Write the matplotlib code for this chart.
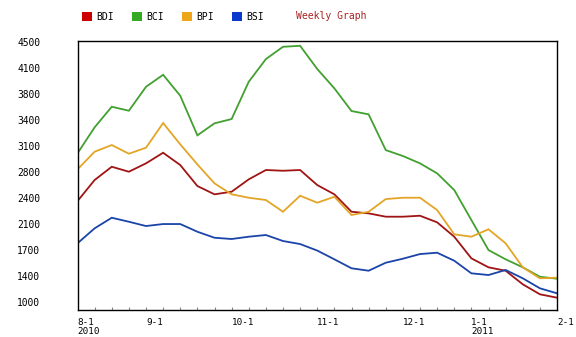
import matplotlib
matplotlib.use("Agg")
import matplotlib.pyplot as plt
import matplotlib.patches as mpatches

weeks = list(range(29))
bdi = [2358, 2642, 2821, 2754, 2867, 3010, 2844, 2561, 2449, 2484, 2651, 2777, 2767, 2777, 2574,
       2449, 2214, 2192, 2147, 2147, 2160, 2071, 1877, 1585, 1464, 1418, 1235, 1100, 1054]
bci = [3002, 3353, 3631, 3577, 3900, 4062, 3779, 3245, 3407, 3465, 3968, 4274, 4440, 4453, 4140,
       3879, 3573, 3528, 3046, 2966, 2867, 2732, 2507, 2102, 1697, 1572, 1464, 1337, 1310]
bpi = [2786, 3024, 3114, 2997, 3078, 3411, 3123, 2853, 2597, 2449, 2403, 2372, 2214, 2430, 2336,
       2416, 2170, 2214, 2385, 2403, 2403, 2237, 1909, 1877, 1977, 1788, 1464, 1316, 1324]
bsi = [1788, 1990, 2133, 2079, 2021, 2048, 2048, 1944, 1863, 1846, 1877, 1900, 1819, 1778, 1690,
       1572, 1451, 1418, 1526, 1580, 1643, 1661, 1553, 1383, 1360, 1428, 1316, 1181, 1113]

series_names = ["BDI", "BCI", "BPI", "BSI"]
line_colors = ["#a01414", "#42a030", "#e3a526", "#1a44a8"]
legend_colors = ["#cc0000", "#33aa22", "#eea519", "#0a3acc"]

ytick_vals = [1000, 1350, 1700, 2050, 2400, 2750, 3100, 3450, 3800, 4150, 4500]
ytick_labels = ["1000", "1400", "1700", "2100", "2400", "2800", "3100", "3400", "3800", "4100", "4500"]
xlabel_pos = [0, 4, 9, 14, 19, 23, 28]
xlabel_text = ["8-1\n2010", "9-1", "10-1", "11-1", "12-1", "1-1\n2011", "2-1"]

W, H = 576, 337
fig = plt.figure(figsize=(W / 100, H / 100), dpi=100)
fig.patch.set_facecolor("white")

left, right, top, bottom = 77.5, 557.0, 40.7, 310.0
ax = fig.add_axes([left / W, (H - bottom) / H, (right - left) / W, (bottom - top) / H])

for vals, c in zip([bdi, bci, bpi, bsi], line_colors):
    ax.plot(weeks, vals, color=c, lw=1.3, solid_joinstyle="miter")

ax.set_xlim(0, 28)
ax.set_ylim(888, 4522)

mono = "DejaVu Sans Mono"
ax.set_yticks(ytick_vals)
ax.set_yticklabels(ytick_labels, fontsize=6.9, family=mono)
ax.tick_params(axis="y", length=0, pad=27)
for lab in ax.get_yticklabels():
    lab.set_horizontalalignment("right")

ax.set_xticks(weeks[1:-1])
ax.set_xticklabels([])
ax.tick_params(axis="x", direction="in", length=2.5, width=0.8, color="#888888")

for p, t in zip(xlabel_pos, xlabel_text):
    ax.annotate(t, xy=(p, 0), xycoords=("data", "axes fraction"),
                xytext=(0, -5.5), textcoords="offset points",
                ha="left", va="top", fontsize=6.7, family=mono,
                linespacing=1.0)

for s in ax.spines.values():
    s.set_color("black")
    s.set_linewidth(1.0)

# legend
lx = [82, 132, 182, 232]
for x0, name, c in zip(lx, series_names, legend_colors):
    fig.patches.append(mpatches.Rectangle((x0 / W, (H - 21) / H), 10 / W, 9 / H,
                                          transform=fig.transFigure, facecolor=c,
                                          edgecolor="none"))
    fig.text((x0 + 14) / W, (H - 16.5) / H, name, fontsize=7, family=mono,
             va="center", ha="left", color="black")
fig.text(296 / W, (H - 16) / H, "Weekly Graph", fontsize=7, family=mono,
         va="center", ha="left", color="#aa2222")

fig.savefig("out.png", dpi=100)
